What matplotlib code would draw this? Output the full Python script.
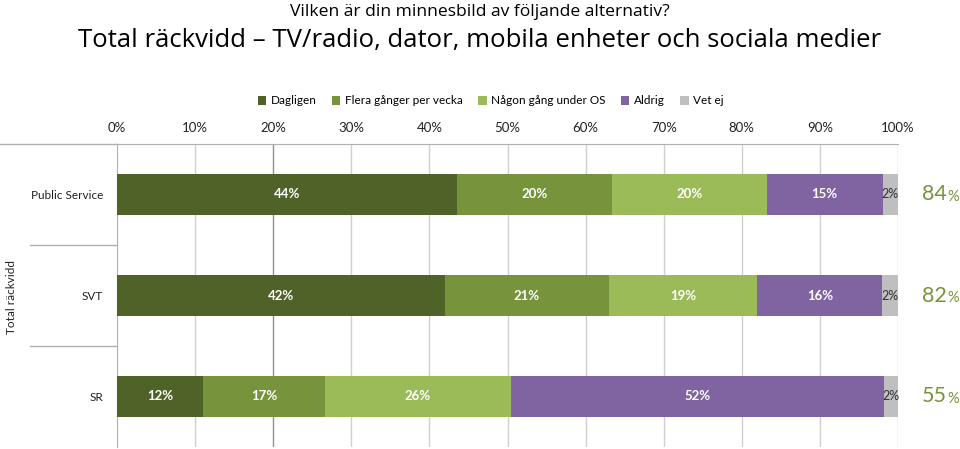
import numpy as np
import matplotlib
matplotlib.use('Agg')
import matplotlib.pyplot as plt
import matplotlib.transforms as mtransforms

# Daten
kategorien = ['Public Service', 'SVT', 'SR']
serien = ['Dagligen', 'Flera gånger per vecka', 'Någon gång under OS', 'Aldrig', 'Vet ej']
farben = ['#4f6228', '#77933c', '#9bbb59', '#8064a2', '#bfbfbf']
dagligen = [44, 42, 12]
flera = [20, 21, 17]
nagon = [20, 19, 26]
aldrig = [15, 16, 52]
vet_ej = [2, 2, 2]
total = [84, 82, 55]

werte = np.array([dagligen, flera, nagon, aldrig, vet_ej], dtype=float)
anteile = werte / werte.sum(axis=0) * 100  # 100%-gestapelt wie in Excel

plt.rcParams['font.family'] = ['Lato', 'DejaVu Sans']

fig = plt.figure(figsize=(9.6, 4.49), dpi=100)
ax = fig.add_axes([117/960, 1 - 447/449, (898-117)/960, (447-144)/449])

y = np.arange(len(kategorien))
links = np.zeros(len(kategorien))
for i, name in enumerate(serien):
    ax.barh(y, anteile[i], left=links, height=0.4, color=farben[i], label=name, zorder=3)
    for j in range(len(kategorien)):
        mitte = links[j] + anteile[i][j] / 2
        txt = '%d%%' % werte[i][j]
        if name == 'Vet ej':
            ax.text(mitte, y[j], txt, ha='center', va='center', fontsize=9,
                    color='#333333', zorder=4)
        else:
            ax.text(mitte, y[j], txt, ha='center', va='center', fontsize=9.5,
                    color='white', fontweight='bold', zorder=4)
    links += anteile[i]

ax.set_xlim(0, 100)
ax.set_ylim(2.5, -0.5)
ax.set_xticks(np.arange(0, 101, 10))
ax.set_xticklabels(['%d%%' % v for v in range(0, 101, 10)], fontsize=9.5, color='#222222')
ax.xaxis.tick_top()
ax.tick_params(axis='x', length=0, pad=7)
ax.set_yticks(y)
ax.set_yticklabels(kategorien, fontsize=8.5, color='#222222')
ax.tick_params(axis='y', length=0, pad=10)

# Gitterlinien
for v in range(10, 101, 10):
    ax.axvline(v, color='#909090' if v == 20 else '#cfcfcf', lw=1, zorder=1)
for s in ['right', 'bottom']:
    ax.spines[s].set_visible(False)
ax.spines['left'].set_color('#b0b0b0')
ax.spines['top'].set_color('#b0b0b0')

# Trennlinien links
trans = mtransforms.blended_transform_factory(fig.transFigure, ax.transData)
for t in [0.5, 1.5]:
    ax.plot([30/960, 117/960], [t, t], transform=trans, color='#b0b0b0', lw=1, clip_on=False)
ax.plot([0, 117/960], [-0.5, -0.5], transform=trans, color='#b0b0b0', lw=1, clip_on=False)

fig.text(12/960, 1 - 297/449, 'Total räckvidd', rotation=90, ha='center', va='center',
         fontsize=8.5, color='#222222')

# Summen rechts
for j in range(len(kategorien)):
    ax.annotate(str(total[j]), xy=(1.0, y[j]), xycoords=('axes fraction', 'data'),
                xytext=(35, 0), textcoords='offset points', ha='right', va='center',
                fontsize=15.5, color='#77933c')
    ax.annotate('%', xy=(1.0, y[j]), xycoords=('axes fraction', 'data'),
                xytext=(35.5, -1.5), textcoords='offset points', ha='left', va='center',
                fontsize=10.5, color='#77933c')

leg = fig.legend(loc='center', bbox_to_anchor=(491/960, 1 - 101/449), ncol=5, frameon=False,
                 fontsize=8.5, handlelength=0.7, handleheight=0.7, handletextpad=0.4,
                 columnspacing=1.3)

fig.text(0.5, 1 - 12/449, 'Vilken är din minnesbild av följande alternativ?', ha='center',
         va='center', fontsize=12.6, family=['Open Sans', 'DejaVu Sans'])
fig.text(0.5, 1 - 40/449, 'Total räckvidd – TV/radio, dator, mobila enheter och sociala medier',
         ha='center', va='center', fontsize=18.5, family=['Open Sans', 'DejaVu Sans'])

fig.savefig('out.png', dpi=100)
